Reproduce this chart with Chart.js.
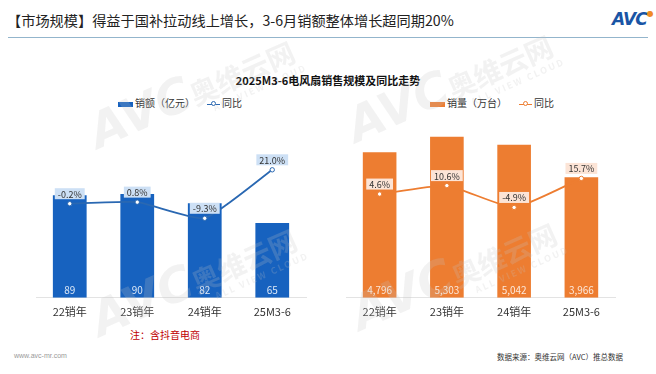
<!DOCTYPE html>
<html>
<head>
<meta charset="utf-8">
<script src="https://cdn.jsdelivr.net/npm/chart.js@4"></script>
<style>
  body { margin: 0; background: #fff; font-family: "Noto Sans CJK SC", "Noto Sans", sans-serif; }
  #page { position: relative; width: 656px; height: 374px; overflow: hidden; background: #fff; }
  .abs { position: absolute; white-space: nowrap; }
  #title { left: 7px; top: 10px; font-size: 14.2px; color: #222; }
  #rule { left: 8px; top: 37px; width: 640px; height: 0; border-top: 1.5px solid #93b5cc; }
  #logo { left: 612px; top: 9px; font-size: 17px; font-weight: bold; font-style: italic; color: #1a55a5; font-family: "DejaVu Sans", sans-serif; letter-spacing: -1px; }
  #logo span { color: #f08a24; font-size: 8px; vertical-align: top; }
  #subtitle { left: 0; width: 656px; top: 72px; text-align: center; font-size: 11px; font-weight: bold; color: #111; }
  .leg { top: 95px; font-size: 10px; color: #333; }
  .box { display: inline-block; width: 15px; height: 5px; vertical-align: middle; margin-right: 2px; }
  .ln { display: inline-block; position: relative; width: 13px; height: 0; border-top: 1.5px solid; vertical-align: middle; margin: 0 2px 0 12px; }
  .ln i { position: absolute; left: 4px; top: -3.5px; width: 3px; height: 3px; border-radius: 50%; background: #fff; border: 1px solid; }
  canvas { position: absolute; }
  #note { left: 130px; top: 327px; font-size: 10px; color: #c00000; }
  #www { left: 14px; top: 352px; font-size: 7px; color: #999; font-family: "Liberation Sans", sans-serif; }
  #src { left: 497px; top: 351px; font-size: 7.5px; color: #333; }
  .wm { color: rgba(195,195,195,0.22); font-weight: bold; transform-origin: left top; pointer-events: none; z-index: 5; transform: rotate(-24deg); }
  .wm b { font-size: 48px; font-style: italic; font-family: "DejaVu Sans", sans-serif; }
  .wm span { font-size: 28px; }
  .wm div { font-size: 9px; margin-left: 122px; margin-top: -8px; letter-spacing: 2px; }
</style>
</head>
<body>
<div id="page">
  <div class="abs" id="title">【市场规模】得益于国补拉动线上增长，3-6月销额整体增长超同期20%</div>
  <div class="abs" id="rule"></div>
  <div class="abs" id="logo">AVC<span>●</span></div>
  <div class="abs" id="subtitle">2025M3-6电风扇销售规模及同比走势</div>

  <div class="abs leg" style="left:118px"><span class="box" style="background:#1762bf"></span>销额（亿元）<span class="ln" style="border-color:#2a68b2"><i style="border-color:#2a68b2"></i></span>同比</div>
  <div class="abs leg" style="left:430px"><span class="box" style="background:#ed7d31"></span>销量（万台）<span class="ln" style="border-color:#ed7d31"><i style="border-color:#ed7d31"></i></span>同比</div>

  <canvas id="c1" width="330" height="212" style="left:0;top:115px"></canvas>
  <canvas id="c2" width="326" height="212" style="left:330px;top:115px"></canvas>

  <div class="abs" id="note">注：含抖音电商</div>
  <div class="abs" id="www">www.avc-mr.com</div>
  <div class="abs" id="src">数据来源：奥维云网（AVC）推总数据</div>

  <div class="abs wm" style="left:80px;top:108px"><b>AVC</b><span>奥维云网</span><div>ALL VIEW CLOUD</div></div>
  <div class="abs wm" style="left:338px;top:102px"><b>AVC</b><span>奥维云网</span><div>ALL VIEW CLOUD</div></div>
  <div class="abs wm" style="left:82px;top:296px"><b>AVC</b><span>奥维云网</span><div>ALL VIEW CLOUD</div></div>
  <div class="abs wm" style="left:342px;top:290px"><b>AVC</b><span>奥维云网</span><div>ALL VIEW CLOUD</div></div>
</div>
<script>
const categories = ['22销年', '23销年', '24销年', '25M3-6'];
const salesValue = [89, 90, 82, 65];           // 销额（亿元）
const salesValueYoY = [-0.2, 0.8, -9.3, 21.0];  // 同比 %
const salesVolume = [4796, 5303, 5042, 3966];  // 销量（万台）
const salesVolumeYoY = [4.6, 10.6, -4.9, 15.7]; // 同比 %

const FONT = '"Noto Sans CJK SC", "Noto Sans", sans-serif';

// value at bar bottom + boxed % label above each line point
const labelPlugin = {
    id: 'labels',
    afterDatasetsDraw(chart, args, opts) {
        const ctx = chart.ctx;
        ctx.save();
        ctx.textAlign = 'center';
        ctx.textBaseline = 'middle';
        const barMeta = chart.getDatasetMeta(0);
        ctx.font = '10px ' + FONT;
        ctx.fillStyle = opts.barText;
        barMeta.data.forEach((el, i) => {
            const v = chart.data.datasets[0].data[i];
            ctx.fillText(v.toLocaleString('en-US'), el.x, el.base - 8);
        });
        const lineMeta = chart.getDatasetMeta(1);
        ctx.font = '9px ' + FONT;
        lineMeta.data.forEach((el, i) => {
            const t = chart.data.datasets[1].data[i].toFixed(1) + '%';
            const w = ctx.measureText(t).width + 6;
            const cy = el.y - 10;
            ctx.fillStyle = opts.boxBg;
            ctx.fillRect(el.x - w / 2, cy - 5.5, w, 11);
            ctx.fillStyle = '#333';
            ctx.fillText(t, el.x, cy + 0.5);
        });
        ctx.restore();
    }
};

function makeChart(id, bars, yoy, cfg) {
    return new Chart(document.getElementById(id), {
        data: {
            labels: categories,
            datasets: [
                {
                    type: 'bar',
                    data: bars,
                    backgroundColor: cfg.barColor,
                    yAxisID: 'y',
                    barPercentage: 0.5,
                    categoryPercentage: 1,
                    order: 1
                },
                {
                    type: 'line',
                    data: yoy,
                    borderColor: cfg.lineColor,
                    borderWidth: 1.8,
                    tension: 0.15,
                    pointRadius: 2.2,
                    pointBackgroundColor: '#fff',
                    pointBorderColor: cfg.lineColor,
                    pointBorderWidth: 1,
                    yAxisID: 'y1',
                    order: 0
                }
            ]
        },
        options: {
            responsive: false,
            animation: false,
            layout: { padding: { left: cfg.padL, right: cfg.padR, top: 10, bottom: 2 } },
            plugins: {
                legend: { display: false },
                tooltip: { enabled: false },
                labels: { barText: cfg.barText, boxBg: cfg.boxBg }
            },
            scales: {
                x: {
                    grid: { display: false, drawTicks: false },
                    border: { display: true, color: '#e3e3e3', width: 1 },
                    ticks: { color: '#333', padding: 7, font: { size: 11, family: FONT } }
                },
                y: { display: false, min: 0, max: cfg.barMax },
                y1: { display: false, min: cfg.lineMin, max: cfg.lineMax }
            }
        },
        plugins: [labelPlugin]
    });
}

makeChart('c1', salesValue, salesValueYoY, {
    barColor: '#1762bf', lineColor: '#2a68b2', barText: '#dce8f7', boxBg: '#cde0f5',
    padL: 36, padR: 24, barMax: 150, lineMin: -59, lineMax: 49
});
makeChart('c2', salesVolume, salesVolumeYoY, {
    barColor: '#ed7d31', lineColor: '#ed7d31', barText: '#fde8da', boxBg: '#fce4d6',
    padL: 16, padR: 41, barMax: 5690, lineMin: -69, lineMax: 53.6
});
</script>
</body>
</html>
